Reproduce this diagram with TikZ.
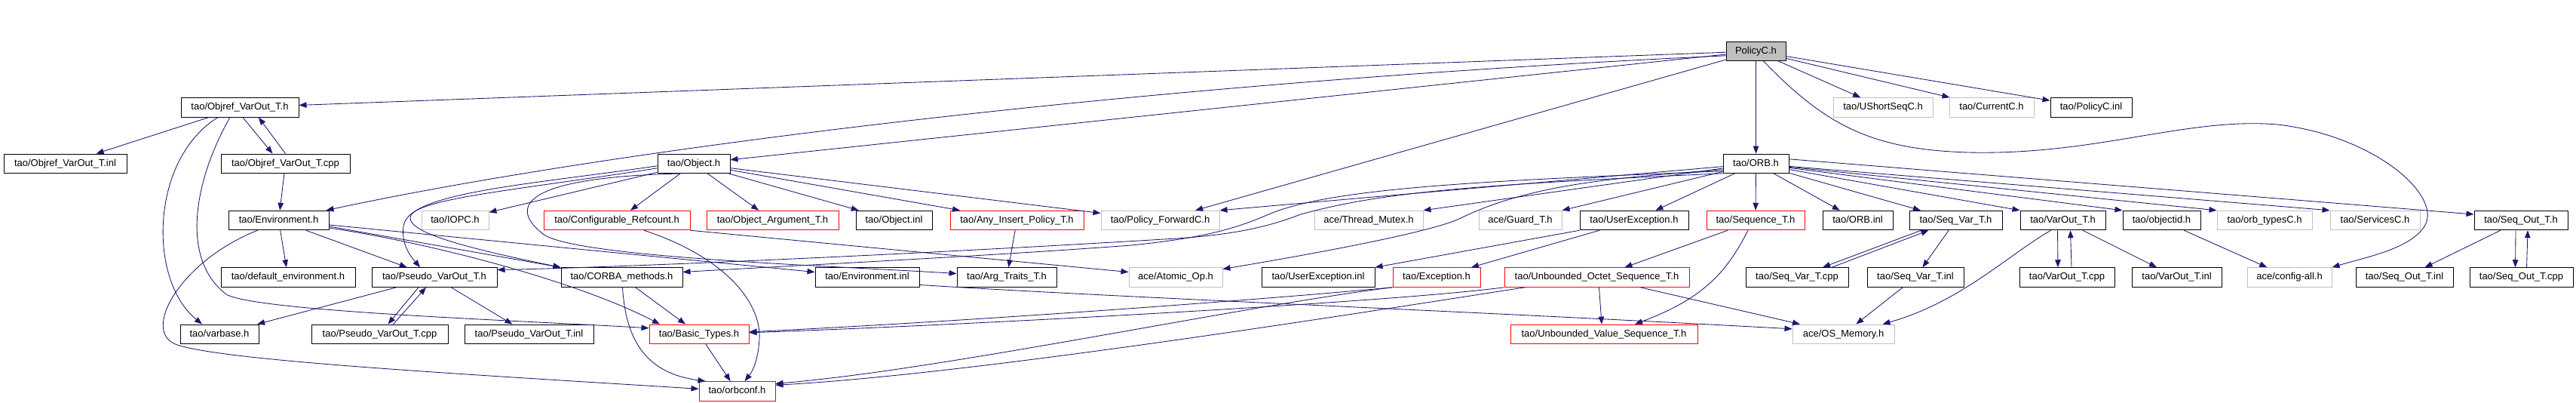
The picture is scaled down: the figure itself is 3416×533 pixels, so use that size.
\documentclass[tikz,border=0pt]{standalone}
\usepackage{fontspec}
\setmainfont{Liberation Sans}
\usetikzlibrary{arrows.meta}
\definecolor{mblue}{RGB}{25,25,112}
\definecolor{gbd}{RGB}{191,191,191}
\definecolor{rbd}{RGB}{255,0,0}
\tikzset{
  nd/.style={draw=black, line width=1pt, fill=white, inner sep=0pt, minimum height=25.5pt,
    font=\fontsize{13}{15}\selectfont, text height=9.6pt, text depth=2.8pt},
  rd/.style={nd, draw=rbd},
  gy/.style={nd, draw=gbd},
  root/.style={nd, fill=gbd},
  dep/.style={draw=mblue, line width=0.85pt, -{Triangle[length=10pt,width=7.5pt]}},
}
\newcommand{\bx}[6]{\pgfmathsetmacro{\bxw}{#4-#3}\pgfmathsetmacro{\bxc}{(#3+#4)/2}\node[#1, minimum width=\bxw pt] (#2) at (\bxc,#5) {#6};}
\begin{document}
\begin{tikzpicture}[x=1pt,y=-1pt]
\useasboundingbox (0,0) rectangle (3416,533);
% row A
\bx{root}{PolicyC}{2289}{2368}{67.8}{PolicyC.h}
% row B
\bx{nd}{ObjrefH}{240}{396}{142.3}{tao/Objref\_VarOut\_T.h}
\bx{gy}{UShort}{2431}{2563}{142.3}{tao/UShortSeqC.h}
\bx{gy}{Current}{2585}{2697}{142.3}{tao/CurrentC.h}
\bx{nd}{PolInl}{2719}{2827}{142.3}{tao/PolicyC.inl}
% row C
\bx{nd}{ObjrefInl}{5}{168}{216.8}{tao/Objref\_VarOut\_T.inl}
\bx{nd}{ObjrefCpp}{293}{464}{216.8}{tao/Objref\_VarOut\_T.cpp}
\bx{nd}{Object}{872}{968}{216.8}{tao/Object.h}
\bx{nd}{ORB}{2285}{2372}{216.8}{tao/ORB.h}
% row D
\bx{nd}{Env}{303}{436}{292}{tao/Environment.h}
\bx{gy}{IOPC}{559}{648}{292}{tao/IOPC.h}
\bx{rd}{ConfRef}{721}{915}{292}{tao/Configurable\_Refcount.h}
\bx{rd}{ObjArg}{937}{1112}{292}{tao/Object\_Argument\_T.h}
\bx{nd}{ObjInl}{1135}{1236}{292}{tao/Object.inl}
\bx{rd}{AnyIns}{1260}{1437}{292}{tao/Any\_Insert\_Policy\_T.h}
\bx{gy}{PolFwd}{1460}{1617}{292}{tao/Policy\_ForwardC.h}
\bx{gy}{TMutex}{1743}{1887}{292}{ace/Thread\_Mutex.h}
\bx{gy}{Guard}{1961}{2071}{292}{ace/Guard\_T.h}
\bx{nd}{UserExc}{2095}{2239}{292}{tao/UserException.h}
\bx{rd}{SeqT}{2263}{2393}{292}{tao/Sequence\_T.h}
\bx{nd}{ORBInl}{2417}{2510}{292}{tao/ORB.inl}
\bx{nd}{SVar}{2532}{2655}{292}{tao/Seq\_Var\_T.h}
\bx{nd}{VarOut}{2679}{2792}{292}{tao/VarOut\_T.h}
\bx{nd}{objid}{2815}{2918}{292}{tao/objectid.h}
\bx{gy}{orbtypes}{2940}{3066}{292}{tao/orb\_typesC.h}
\bx{gy}{Services}{3090}{3209}{292}{tao/ServicesC.h}
\bx{nd}{SOut}{3281}{3405}{292}{tao/Seq\_Out\_T.h}
% row E
\bx{nd}{DefEnv}{293}{471}{367.5}{tao/default\_environment.h}
\bx{nd}{Pseudo}{493}{659}{367.5}{tao/Pseudo\_VarOut\_T.h}
\bx{nd}{CORBA}{744}{905}{367.5}{tao/CORBA\_methods.h}
\bx{nd}{EnvInl}{1081}{1219}{367.5}{tao/Environment.inl}
\bx{nd}{ArgTr}{1269}{1401}{367.5}{tao/Arg\_Traits\_T.h}
\bx{gy}{AtomicOp}{1497}{1621}{367.5}{ace/Atomic\_Op.h}
\bx{nd}{UExcInl}{1673}{1823}{367.5}{tao/UserException.inl}
\bx{rd}{Exception}{1847}{1963}{367.5}{tao/Exception.h}
\bx{rd}{UOct}{1995}{2240}{367.5}{tao/Unbounded\_Octet\_Sequence\_T.h}
\bx{nd}{SVCpp}{2315}{2451}{367.5}{tao/Seq\_Var\_T.cpp}
\bx{nd}{SVInl}{2476}{2604}{367.5}{tao/Seq\_Var\_T.inl}
\bx{nd}{VOCpp}{2678}{2804}{367.5}{tao/VarOut\_T.cpp}
\bx{nd}{VOInl}{2827}{2946}{367.5}{tao/VarOut\_T.inl}
\bx{gy}{CfgAll}{2980}{3092}{367.5}{ace/config-all.h}
\bx{nd}{SOInl}{3124}{3253}{367.5}{tao/Seq\_Out\_T.inl}
\bx{nd}{SOCpp}{3275}{3412}{367.5}{tao/Seq\_Out\_T.cpp}
% row F
\bx{nd}{varbase}{239}{343}{442.8}{tao/varbase.h}
\bx{nd}{PsCpp}{413}{594}{442.8}{tao/Pseudo\_VarOut\_T.cpp}
\bx{nd}{PsInl}{616}{787}{442.8}{tao/Pseudo\_VarOut\_T.inl}
\bx{rd}{BasicT}{861}{993}{442.8}{tao/Basic\_Types.h}
\bx{rd}{UVal}{2003}{2251}{442.8}{tao/Unbounded\_Value\_Sequence\_T.h}
\bx{gy}{OSMem}{2377}{2512}{442.8}{ace/OS\_Memory.h}
% row G
\bx{rd}{orbconf}{927}{1028}{518.3}{tao/orbconf.h}

% ---- PolicyC.h
\draw[dep] (PolicyC) -- (ObjrefH);
\draw[dep] ([yshift=-6]PolicyC.west) .. controls (1500,110) and (800,200) .. ([xshift=-4]Env.north east);
\draw[dep] (PolicyC) -- (Object);
\draw[dep] (PolicyC) -- (PolFwd);
\draw[dep] (PolicyC) -- (ORB);
\draw[dep] (PolicyC) -- (UShort);
\draw[dep] (PolicyC) -- (Current);
\draw[dep] (PolicyC) -- (PolInl);
\draw[dep] ([xshift=10]PolicyC.south) .. controls (2420,165) and (2480,198) .. (2610,202)
   .. controls (2780,206) and (2900,155) .. (3020,165)
   .. controls (3150,180) and (3240,260) .. (3215,300)
   .. controls (3195,330) and (3140,340) .. (CfgAll.north east);
% ---- Objref_VarOut_T.h
\draw[dep] (ObjrefH) -- (ObjrefInl);
\draw[dep] ([xshift=4]ObjrefH.south) -- ([xshift=-17]ObjrefCpp.north);
\draw[dep] (ObjrefCpp.north) -- ([xshift=25]ObjrefH.south);
\draw[dep] ([xshift=-29]ObjrefH.south) .. controls (200,210) and (195,370) .. ([xshift=-23]varbase.north);
\draw[dep] ([xshift=-13]ObjrefH.south) .. controls (262,230) and (235,340) .. (300,390)
   .. controls (340,413) and (700,425) .. ([yshift=8]BasicT.west);
\draw[dep] (ObjrefCpp) -- (Env);
% ---- Environment.h
\draw[dep] (Env) -- (DefEnv);
\draw[dep] (Env) -- (Pseudo);
\draw[dep] ([xshift=-28]Env.south) .. controls (240,345) and (185,440) .. (235,457)
   .. controls (300,478) and (600,495) .. ([yshift=3]orbconf.west);
\draw[dep] ([yshift=-8]Env.east) -- (CORBA.north west);
\draw[dep] ([yshift=-6]Env.east) -- ([yshift=7]EnvInl.west);
\draw[dep] ([yshift=-10]Env.east) .. controls (560,320) and (760,370) .. ([xshift=-52]BasicT.north);
% ---- Object.h
\draw[dep] (Object) -- (IOPC);
\draw[dep] (Object) -- (ConfRef);
\draw[dep] (Object) -- (ObjArg);
\draw[dep] (Object) -- (ObjInl);
\draw[dep] (Object) -- (AnyIns);
\draw[dep] (Object) -- (PolFwd);
\draw[dep] ([yshift=-3]Object.west) .. controls (700,245) and (540,255) .. (535,300)
   .. controls (532,325) and (545,340) .. ([xshift=-19]Pseudo.north);
\draw[dep] ([yshift=-6]Object.west) .. controls (700,250) and (560,262) .. (545,285)
   .. controls (535,305) and (600,325) .. (CORBA.north west);
\draw[dep] ([xshift=-19]Object.south) .. controls (690,235) and (675,275) .. (720,310)
   .. controls (760,341) and (1100,352) .. ([yshift=5]ArgTr.west);
% ---- Pseudo_VarOut_T.h
\draw[dep] (Pseudo) -- (varbase);
\draw[dep] ([xshift=-21]Pseudo.south) -- ([xshift=11]PsCpp.north);
\draw[dep] ([xshift=18]PsCpp.north) -- ([xshift=-11]Pseudo.south);
\draw[dep] (Pseudo) -- (PsInl);
% ---- CORBA_methods.h, Basic_Types.h
\draw[dep] (CORBA) -- (BasicT);
\draw[dep] ([xshift=1]CORBA.south) .. controls (830,455) and (860,495) .. ([xshift=-42]orbconf.north);
\draw[dep] (BasicT) -- (orbconf);
% ---- Configurable_Refcount.h
\draw[dep] ([xshift=36]ConfRef.south) .. controls (960,340) and (1010,400) .. (1007,450)
   .. controls (1005,478) and (998,492) .. ([xshift=10]orbconf.north);
\draw[dep] (ConfRef.south east) -- ([yshift=7]AtomicOp.west);
% ---- Any_Insert_Policy_T.h
\draw[dep] (AnyIns) -- (ArgTr);
% ---- Environment.inl
\draw[dep] ([yshift=-10]EnvInl.east) .. controls (1500,395) and (1900,410) .. ([yshift=7]OSMem.west);
% ---- ORB.h
\draw[dep] (ORB) -- (PolFwd.north east);
\draw[dep] (ORB) -- (TMutex.north east);
\draw[dep] (ORB) -- (Guard.north east);
\draw[dep] ([yshift=-8]ORB.west) .. controls (2150,235) and (2030,243) .. (1935,290)
   .. controls (1895,308) and (1750,335) .. ([yshift=11]AtomicOp.east);
\draw[dep] ([yshift=-10]ORB.west) .. controls (1950,240) and (1760,250) .. (1680,285)
   .. controls (1640,302) and (1600,315) .. (1500,325)
   .. controls (1300,340) and (1050,352) .. ([yshift=7]CORBA.east);
\draw[dep] ([yshift=-13]ORB.west) .. controls (1950,245) and (1830,255) .. (1725,284)
   .. controls (1690,297) and (1650,310) .. (1560,316)
   .. controls (1200,338) and (800,355) .. ([yshift=10]Pseudo.east);
\draw[dep] (ORB) -- (UserExc);
\draw[dep] (ORB) -- (SeqT);
\draw[dep] (ORB) -- (ORBInl);
\draw[dep] (ORB) -- (SVar);
\draw[dep] (ORB) -- (VarOut.north west);
\draw[dep] (ORB) -- (objid.north west);
\draw[dep] (ORB) -- (orbtypes.north west);
\draw[dep] (ORB) -- (Services.north west);
\draw[dep] ([yshift=6]ORB.east) -- ([yshift=8]SOut.west);
% ---- UserException.h
\draw[dep] (UserExc.south west) -- (UExcInl.north east);
\draw[dep] (UserExc) -- (Exception);
% ---- Exception.h
\draw[dep] (Exception.south west) .. controls (1700,395) and (1300,425) .. ([yshift=3]BasicT.east);
\draw[dep] (Exception.south west) .. controls (1650,405) and (1250,490) .. ([yshift=10]orbconf.east);
% ---- Sequence_T.h, Unbounded_Octet
\draw[dep] (SeqT) -- (UOct);
\draw[dep] ([xshift=-10]SeqT.south) .. controls (2290,360) and (2260,395) .. ([xshift=41]UVal.north);
\draw[dep] ([xshift=3]UOct.south) -- ([xshift=-3]UVal.north);
\draw[dep] (UOct) -- (OSMem);
\draw[dep] (UOct.south west) .. controls (1850,400) and (1300,430) .. ([yshift=2]BasicT.east);
\draw[dep] ([xshift=28]UOct.south west) .. controls (1800,415) and (1300,495) .. ([yshift=8]orbconf.east);
% ---- Seq_Var_T.h
\draw[dep] ([xshift=-46]SVar.south) -- ([xshift=34]SVCpp.north);
\draw[dep] ([xshift=46]SVCpp.north) -- ([xshift=-36]SVar.south);
\draw[dep] (SVar) -- (SVInl);
\draw[dep] (SVInl) -- (OSMem);
% ---- VarOut_T.h
\draw[dep] ([xshift=-7]VarOut.south) -- ([xshift=-12]VOCpp.north);
\draw[dep] ([xshift=6]VOCpp.north) -- ([xshift=10]VarOut.south);
\draw[dep] (VarOut) -- (VOInl);
\draw[dep] ([xshift=-16]VarOut.south) .. controls (2660,340) and (2600,400) .. ([xshift=52]OSMem.north);
% ---- objectid.h
\draw[dep] (objid) -- (CfgAll);
% ---- Seq_Out_T.h
\draw[dep] (SOut) -- (SOInl);
\draw[dep] ([xshift=-7]SOut.south) -- ([xshift=-8]SOCpp.north);
\draw[dep] ([xshift=7]SOCpp.north) -- ([xshift=9]SOut.south);
\end{tikzpicture}
\end{document}
